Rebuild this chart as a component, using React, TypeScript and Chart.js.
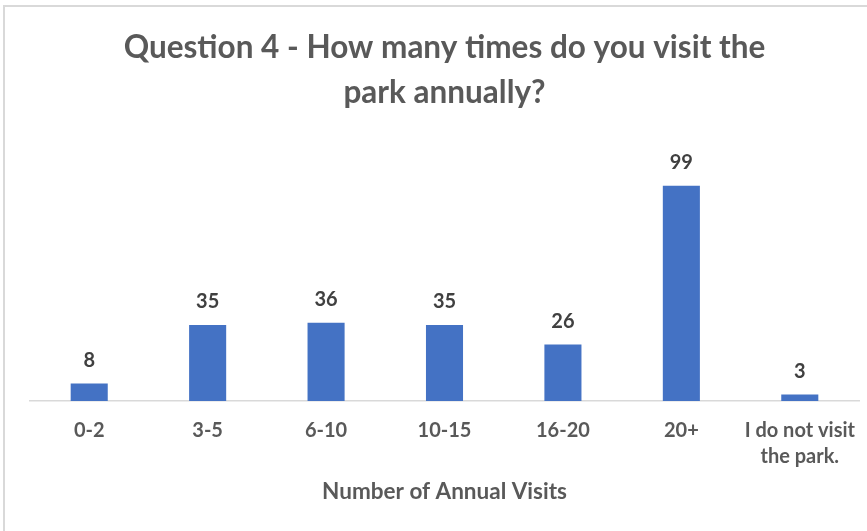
import React, { useEffect, useRef } from "react";
import { Chart, registerables } from "chart.js";

Chart.register(...registerables);

const categories: (string | string[])[] = ["0-2", "3-5", "6-10", "10-15", "16-20", "20+", ["I do not visit", "the park."]];
const visits: number[] = [8, 35, 36, 35, 26, 99, 3];
const chartTitle: string[] = ["Question 4 - How many times do you visit the", "park annually?"];
const xAxisTitle = "Number of Annual Visits";

const FONT = "Lato, 'Open Sans', sans-serif";
const TEXT = "#595959";

const dataLabels = {
  id: "dataLabels",
  afterDatasetsDraw(chart: any) {
    const ctx = chart.ctx;
    const meta = chart.getDatasetMeta(0);
    const ds = chart.data.datasets[0];
    ctx.save();
    ctx.font = `bold 20px ${FONT}`;
    ctx.fillStyle = "#404040";
    ctx.textAlign = "center";
    ctx.textBaseline = "middle";
    meta.data.forEach((bar: any, i: number) => {
      ctx.fillText(String(ds.data[i]), bar.x, bar.y - 23);
    });
    ctx.restore();
  },
};

export default function App() {
  const ref = useRef<HTMLCanvasElement | null>(null);
  useEffect(() => {
    if (!ref.current) return;
    const chart = new Chart(ref.current, {
      type: "bar",
      data: {
        labels: categories,
        datasets: [
          {
            data: visits,
            backgroundColor: "#4472C4",
            categoryPercentage: 1,
            barPercentage: 0.313,
          },
        ],
      },
      plugins: [dataLabels],
      options: {
        animation: false,
        responsive: false,
        maintainAspectRatio: false,
        layout: { padding: { left: 30, right: 8, top: 0, bottom: 0 } },
        plugins: {
          legend: { display: false },
          tooltip: { enabled: false },
          title: {
            display: true,
            text: chartTitle,
            color: TEXT,
            font: { family: FONT, size: 31.5, weight: "bold", lineHeight: 1.43 },
            padding: { top: 25, bottom: 25 },
          },
        },
        scales: {
          x: {
            grid: { display: false },
            border: { display: true, color: "#d9d9d9", width: 1.5 },
            ticks: {
              color: TEXT,
              font: { family: FONT, size: 20, weight: "bold", lineHeight: 1.3 },
              padding: 9,
              maxRotation: 0,
              autoSkip: false,
            },
            title: {
              display: true,
              text: xAxisTitle,
              color: TEXT,
              font: { family: FONT, size: 22.5, weight: "bold", lineHeight: 1.2 },
              padding: { top: 0, bottom: 26 },
            },
            afterFit(scale: any) {
              scale.height = 130;
            },
          },
          y: {
            display: false,
            min: 0,
            max: 120,
          },
        },
      },
    });
    return () => chart.destroy();
  }, []);

  return (
    <div style={{ position: "fixed", left: 0, top: 0, width: 867, height: 531, background: "#fff", overflow: "hidden" }}>
      <div
        style={{
          position: "absolute",
          left: 3,
          top: 5,
          width: 900,
          height: 600,
          border: "2px solid #d9d9d9",
          boxSizing: "border-box",
        }}
      />
      <canvas ref={ref} width={867} height={531} style={{ position: "absolute", left: 0, top: 0, width: 867, height: 531 }} />
    </div>
  );
}
